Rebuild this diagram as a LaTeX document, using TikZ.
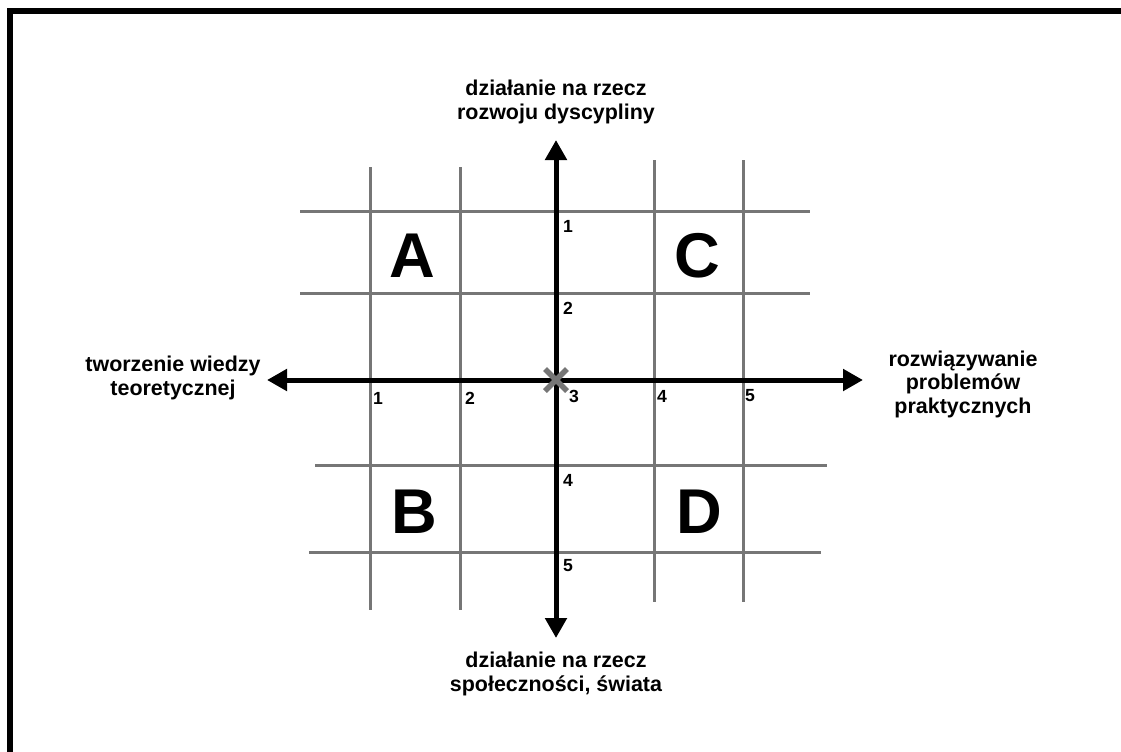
\documentclass[tikz,border=0pt]{standalone}
\usepackage{fontspec}
\setmainfont{Liberation Sans}
\usetikzlibrary{arrows.meta,calc}

\definecolor{gridgray}{RGB}{118,118,118}

\begin{document}
\begin{tikzpicture}[
    x=0.2mm, y=-0.2mm,
    >={Triangle[length=4mm,width=4.2mm]},
    line join=miter,
    font=\bfseries,
    axis/.style={line width=1mm},
    gridline/.style={line width=0.6mm, draw=gridgray},
    axislabel/.style={align=center, inner sep=0pt, font=\bfseries\fontsize{12.2}{13.4}\selectfont},
    ticklabel/.style={inner sep=0pt, font=\bfseries\fontsize{10}{12}\selectfont},
    quadrant/.style={inner sep=0pt, font=\bfseries\fontsize{36}{40}\selectfont}
]

% ======================================
% rozmiar strony i ramka
% ======================================
\useasboundingbox (0,0) rectangle (1121,751);
\draw[line width=1.3mm] (10,760) -- (10,11) -- (1130,11);

% ======================================
% siatka (szare linie)
% ======================================
% poziome, gora
\draw[gridline] (300,211) -- (810,211);
\draw[gridline] (300,293) -- (810,293);
% poziome, dol
\draw[gridline] (315,465) -- (827,465);
\draw[gridline] (309,552) -- (821,552);
% pionowe, lewo
\draw[gridline] (370,167) -- (370,610);
\draw[gridline] (460,167) -- (460,610);
% pionowe, prawo
\draw[gridline] (654,160) -- (654,602);
\draw[gridline] (743,160) -- (743,602);

% ======================================
% osie
% ======================================
\coordinate (N) at (556,140);
\coordinate (S) at (556,638);
\coordinate (W) at (267,380);
\coordinate (E) at (863,380);
\coordinate (O) at (556,380);

\draw[axis, <->] (W) -- (E);
\draw[axis, <->] (S) -- (N);

% punkt srodkowy
\draw[line width=1.1mm, draw=gridgray] ($(O)+(-11,-11)$) -- ($(O)+(11,11)$);
\draw[line width=1.1mm, draw=gridgray] ($(O)+(-11,11)$) -- ($(O)+(11,-11)$);

% ======================================
% opisy osi
% ======================================
\node[axislabel] (lblN) at (556,102) {działanie na rzecz\\rozwoju dyscypliny};
\node[axislabel] (lblS) at (556,674) {działanie na rzecz\\społeczności, świata};
\node[axislabel] (lblW) at (173,378) {tworzenie wiedzy\\teoretycznej};
\node[axislabel] (lblE) at (963,384) {rozwiązywanie\\problemów\\praktycznych};

% ======================================
% podzialka
% ======================================
% os pionowa
\node[ticklabel] (v1) at (568,226) {1};
\node[ticklabel] (v2) at (568,308) {2};
\node[ticklabel] (v3) at (574,396) {3};
\node[ticklabel] (v4) at (568,480) {4};
\node[ticklabel] (v5) at (568,566) {5};
% os pozioma
\node[ticklabel] (h1) at (378,398) {1};
\node[ticklabel] (h2) at (470,398) {2};
\node[ticklabel] (h4) at (662,396) {4};
\node[ticklabel] (h5) at (750,396) {5};

% ======================================
% cwiartki
% ======================================
\node[quadrant] (qA) at (412,256) {A};
\node[quadrant] (qC) at (697,256) {C};
\node[quadrant] (qB) at (414,512) {B};
\node[quadrant] (qD) at (699,512) {D};

\end{tikzpicture}
\end{document}
